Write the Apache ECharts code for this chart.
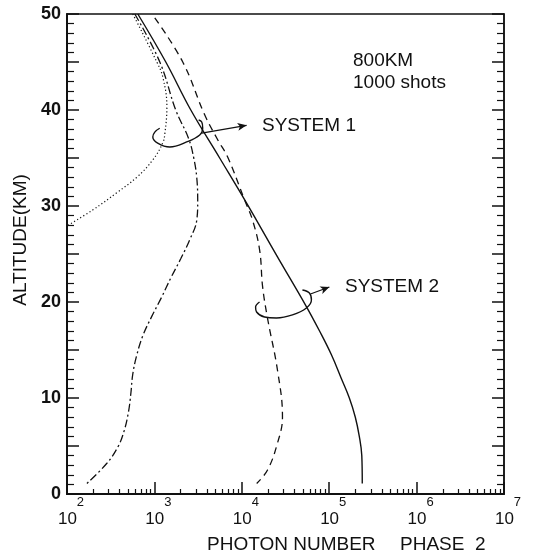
<!DOCTYPE html>
<html>
<head>
<meta charset="utf-8">
<script src="https://cdn.jsdelivr.net/npm/echarts@6/dist/echarts.min.js"></script>
<style>
  html, body { margin: 0; padding: 0; background: #fff; }
  #chart { width: 533px; height: 559px; }
</style>
</head>
<body>
<div id="chart"></div>
<script>
// altitude (km) against photon number
var solidAlt = [50, 45, 40, 35, 30.3, 24.7, 19.5, 17, 14.5, 12, 10, 8, 6, 4, 1.1];
var solidPhotons = [646, 1350, 2610, 5580, 11350, 25600, 55000, 77300, 106000, 138000, 170000, 199000, 221000, 236000, 239000];

var dashedAlt = [49.6, 45, 39.5, 36.9, 35.1, 30.6, 28.5, 25.4, 21.6, 18.3, 12.9, 8, 5.3, 2.5, 1.1];
var dashedPhotons = [1010, 2110, 3760, 5300, 6890, 10800, 13300, 16000, 17300, 19700, 25600, 29200, 25600, 19700, 14800];

var dashDotAlt = [50, 45, 40, 37, 35, 33, 30.5, 28.5, 26.5, 24.5, 22.5, 20.5, 18.5, 16.5, 14.5, 12.5, 10.5, 8.5, 6.5, 4.9, 3.2, 1.1];
var dashDotPhotons = [597, 1153, 1754, 2470, 2820, 3050, 3130, 3050, 2540, 2000, 1540, 1210, 933, 738, 630, 566, 538, 504, 448, 382, 286, 169];

var dottedAlt = [50, 45, 43.4, 40.3, 37.6, 36.6, 34.8, 33.0, 31.4, 29.6, 28.0];
var dottedPhotons = [566, 1065, 1250, 1390, 1320, 1250, 959, 630, 373, 198, 103];

// the hand drawn loops that group the curves
var loop1Photons = [1150, 1010, 959, 1090, 1500, 2340, 3300, 3570, 3480, 3210];
var loop1Alt = [38.1, 37.7, 37.2, 36.56, 36.15, 36.67, 37.4, 38.13, 38.75, 38.96];
var loop2Photons = [15960, 14380, 14760, 18200, 24900, 38000, 54900, 62600, 59400, 49400];
var loop2Alt = [20.0, 19.48, 18.96, 18.44, 18.33, 18.65, 19.38, 20.2, 20.94, 21.25];
var arrow1 = [[3480, 37.6], [11350, 38.4]];
var arrow2 = [[61000, 20.83], [100500, 21.56]];

var FONT = '"Liberation Sans", Arial, Helvetica, sans-serif';
var INK = '#111';

function zip(xs, ys) {
  return xs.map(function (x, i) { return [x, ys[i]]; });
}

function curve(xs, ys, dash, width) {
  return {
    type: 'line',
    data: zip(xs, ys),
    showSymbol: false,
    smooth: 0.4,
    silent: true,
    lineStyle: { color: INK, width: width || 1.3, type: dash }
  };
}

function arrow(pts) {
  return {
    type: 'line',
    data: [],
    silent: true,
    markLine: {
      silent: true,
      symbol: ['none', 'arrow'],
      symbolSize: [6, 9],
      label: { show: false },
      lineStyle: { color: INK, width: 1.2, type: 'solid' },
      data: [[{ coord: pts[0] }, { coord: pts[1] }]]
    }
  };
}

var chart = echarts.init(document.getElementById('chart'));

var option = {
  animation: false,
  backgroundColor: '#fff',
  grid: {
    left: 67, right: 29, top: 14, bottom: 65,
    show: true, borderColor: INK, borderWidth: 1.5
  },
  xAxis: {
    type: 'log',
    logBase: 10,
    min: 1e2,
    max: 1e7,
    splitNumber: 5,
    axisLine: { lineStyle: { color: INK, width: 2 } },
    axisTick: { inside: true, length: 12, lineStyle: { color: INK, width: 1.5 } },
    minorTick: { show: true, splitNumber: 9, length: 5, lineStyle: { color: INK, width: 1.2 } },
    splitLine: { show: false },
    axisLabel: {
      margin: 2,
      color: INK,
      fontFamily: FONT,
      formatter: function (v) {
        return '{b|10}{e|' + Math.round(Math.log10(v)) + '}';
      },
      rich: {
        b: { fontSize: 17, fontFamily: FONT, color: INK, padding: [15, 0, 0, 8], verticalAlign: 'bottom' },
        e: { fontSize: 13, fontFamily: FONT, color: INK, verticalAlign: 'top' }
      }
    }
  },
  yAxis: [
    {
      type: 'value',
      min: 0, max: 50, interval: 5,
      position: 'left',
      axisLine: { show: true, lineStyle: { color: INK, width: 2 } },
      axisTick: { show: true, inside: true, length: 12, lineStyle: { color: INK, width: 1.5 } },
      minorTick: { show: true, splitNumber: 5, length: 7, lineStyle: { color: INK, width: 1.2 } },
      splitLine: { show: false },
      axisLabel: {
        margin: 6,
        color: INK,
        fontFamily: FONT,
        fontSize: 18,
        fontWeight: 'bold',
        formatter: function (v) { return v % 10 === 0 ? String(v) : ''; }
      }
    },
    {
      type: 'value',
      min: 0, max: 50, interval: 5,
      position: 'right',
      axisLine: { show: true, lineStyle: { color: INK, width: 1.5 } },
      axisTick: { show: true, inside: true, length: 12, lineStyle: { color: INK, width: 1.5 } },
      minorTick: { show: true, splitNumber: 5, length: 7, lineStyle: { color: INK, width: 1.2 } },
      splitLine: { show: false },
      axisLabel: { show: false }
    }
  ],
  series: [
    curve(solidPhotons, solidAlt, 'solid', 1.4),
    curve(dashedPhotons, dashedAlt, [7, 5], 1.3),
    curve(dashDotPhotons, dashDotAlt, [8, 3, 2, 3], 1.3),
    curve(dottedPhotons, dottedAlt, [1.2, 2.4], 1.2),
    curve(loop1Photons, loop1Alt, 'solid', 1.4),
    curve(loop2Photons, loop2Alt, 'solid', 1.4),
    arrow(arrow1),
    arrow(arrow2)
  ],
  graphic: [
    { type: 'text', x: 353, y: 61, style: { text: '800KM', font: '19px ' + FONT, fill: INK, verticalAlign: 'middle' } },
    { type: 'text', x: 353, y: 83, style: { text: '1000 shots', font: '19px ' + FONT, fill: INK, verticalAlign: 'middle' } },
    { type: 'text', x: 262, y: 126, style: { text: 'SYSTEM 1', font: '19px ' + FONT, fill: INK, verticalAlign: 'middle' } },
    { type: 'text', x: 345, y: 287, style: { text: 'SYSTEM 2', font: '19px ' + FONT, fill: INK, verticalAlign: 'middle' } },
    { type: 'text', x: 207, y: 545, style: { text: 'PHOTON NUMBER', font: '19px ' + FONT, fill: INK, verticalAlign: 'middle' } },
    { type: 'text', x: 400, y: 545, style: { text: 'PHASE  2', font: '19px ' + FONT, fill: INK, verticalAlign: 'middle' } },
    {
      type: 'text', x: 21, y: 240, rotation: Math.PI / 2,
      style: { text: 'ALTITUDE(KM)', font: '19px ' + FONT, fill: INK, align: 'center', verticalAlign: 'middle' }
    }
  ]
};

chart.setOption(option);
</script>
</body>
</html>
